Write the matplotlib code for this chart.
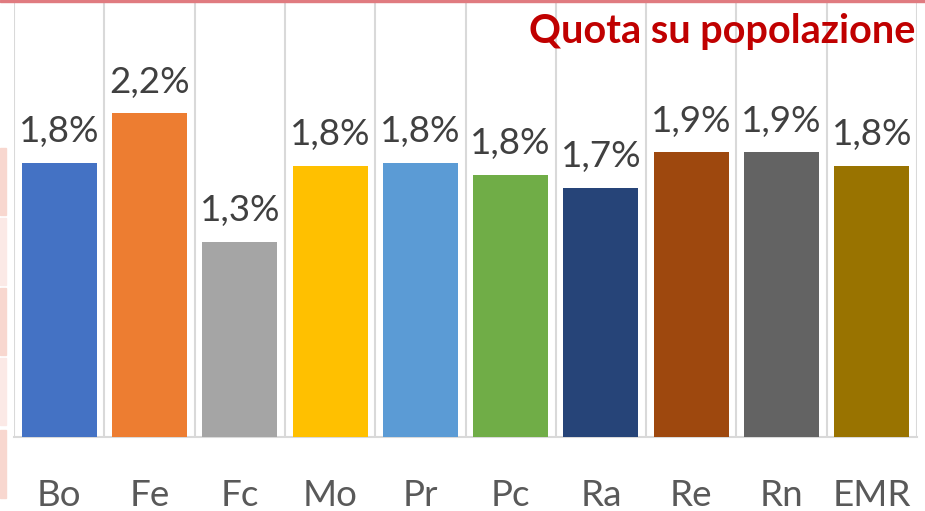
import matplotlib.pyplot as plt
from matplotlib.patches import Rectangle

cats = ['Bo', 'Fe', 'Fc', 'Mo', 'Pr', 'Pc', 'Ra', 'Re', 'Rn', 'EMR']
vals = [1.84, 2.17, 1.31, 1.82, 1.84, 1.76, 1.67, 1.91, 1.91, 1.82]
cols = ['#4472C4', '#ED7D31', '#A5A5A5', '#FFC000', '#5B9BD5',
        '#70AD47', '#264478', '#9E480E', '#636363', '#997300']

plt.rcParams['font.family'] = ['Lato', 'DejaVu Sans']

fig = plt.figure(figsize=(9.25, 5.11), dpi=100)
ax = fig.add_axes([14/925, 74/511, 903/925, 437/511])

x = range(len(cats))
ax.bar(x, vals, width=0.83, color=cols, zorder=3)
for i, v in zip(x, vals):
    ax.annotate(f'{v:.1f}%'.replace('.', ','), (i, v), xytext=(0, 10.5), textcoords='offset points',
                ha='center', va='bottom', fontsize=26.5, color='#404040')

ax.set_xlim(-0.5, len(cats) - 0.5)
ax.set_ylim(0, 2.93)
ax.set_yticks([])
ax.set_xticks(list(x))
ax.set_xticklabels(cats, fontsize=26.5, color='#595959')
ax.tick_params(axis='x', length=0, pad=30)
for b in [i - 0.5 for i in range(len(cats) + 1)]:
    ax.axvline(b, color='#d9d9d9', lw=1.5, zorder=1)
for s in ['top', 'right', 'left']:
    ax.spines[s].set_visible(False)
ax.spines['bottom'].set_color('#d9d9d9')
ax.spines['bottom'].set_linewidth(1.5)

fig.text(915/925, 1 - 32/511, 'Quota su popolazione', ha='right', va='center',
         fontsize=28.5, fontweight='bold', color='#C00000')

# slide decorations
fig.add_artist(Rectangle((0, 1 - 2/511), 1, 2/511, transform=fig.transFigure, color='#e07b80'))
for k, (y0, y1) in enumerate([(148, 215), (218, 285), (288, 355), (358, 425), (430, 498)]):
    fig.add_artist(Rectangle((0, 1 - y1/511), 6/925, (y1 - y0)/511, transform=fig.transFigure,
                             color='#f8d7cf' if k % 2 == 0 else '#fbe9e6'))

fig.savefig('out.png', dpi=100)
